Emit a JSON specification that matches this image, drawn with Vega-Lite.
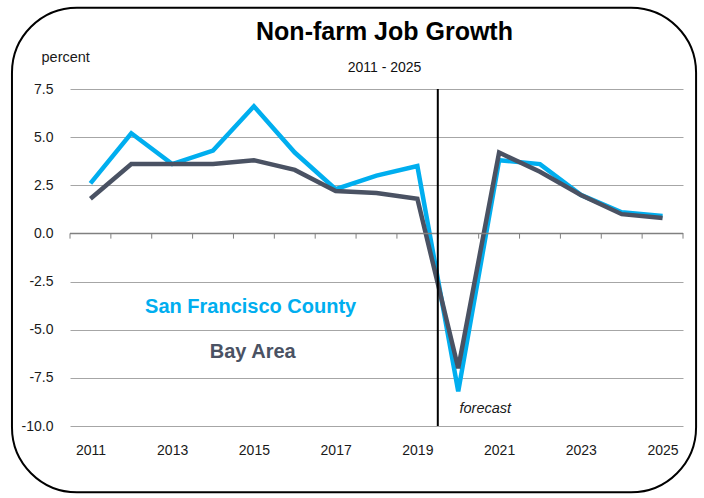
{
  "$schema": "https://vega.github.io/schema/vega-lite/v6.json",
  "width": 613,
  "height": 337,
  "autosize": {"type": "none"},
  "padding": {"left": 70, "top": 89, "right": 21, "bottom": 72},
  "background": "white",
  "title": {
    "text": "Non-farm Job Growth",
    "subtitle": "2011 - 2025",
    "anchor": "middle",
    "frame": "group",
    "dx": 8,
    "offset": -68,
    "font": "Liberation Sans",
    "fontSize": 25,
    "fontWeight": "bold",
    "color": "#000000",
    "subtitleFont": "Liberation Sans",
    "subtitleFontSize": 14,
    "subtitleColor": "#111111",
    "subtitlePadding": 16
  },
  "config": {"view": {"stroke": null}, "font": "Liberation Sans"},
  "datasets": {
    "jobs": [
      {"year": 2011, "series": "San Francisco County", "value": 2.6},
      {"year": 2012, "series": "San Francisco County", "value": 5.2},
      {"year": 2013, "series": "San Francisco County", "value": 3.6},
      {"year": 2014, "series": "San Francisco County", "value": 4.3},
      {"year": 2015, "series": "San Francisco County", "value": 6.6},
      {"year": 2016, "series": "San Francisco County", "value": 4.2},
      {"year": 2017, "series": "San Francisco County", "value": 2.3},
      {"year": 2018, "series": "San Francisco County", "value": 3.0},
      {"year": 2019, "series": "San Francisco County", "value": 3.5},
      {"year": 2020, "series": "San Francisco County", "value": -8.2},
      {"year": 2021, "series": "San Francisco County", "value": 3.8},
      {"year": 2022, "series": "San Francisco County", "value": 3.6},
      {"year": 2023, "series": "San Francisco County", "value": 2.0},
      {"year": 2024, "series": "San Francisco County", "value": 1.1},
      {"year": 2025, "series": "San Francisco County", "value": 0.9},
      {"year": 2011, "series": "Bay Area", "value": 1.8},
      {"year": 2012, "series": "Bay Area", "value": 3.6},
      {"year": 2013, "series": "Bay Area", "value": 3.6},
      {"year": 2014, "series": "Bay Area", "value": 3.6},
      {"year": 2015, "series": "Bay Area", "value": 3.8},
      {"year": 2016, "series": "Bay Area", "value": 3.3},
      {"year": 2017, "series": "Bay Area", "value": 2.2},
      {"year": 2018, "series": "Bay Area", "value": 2.1},
      {"year": 2019, "series": "Bay Area", "value": 1.8},
      {"year": 2020, "series": "Bay Area", "value": -7.0},
      {"year": 2021, "series": "Bay Area", "value": 4.2},
      {"year": 2022, "series": "Bay Area", "value": 3.2},
      {"year": 2023, "series": "Bay Area", "value": 2.0},
      {"year": 2024, "series": "Bay Area", "value": 1.0},
      {"year": 2025, "series": "Bay Area", "value": 0.8}
    ],
    "boundaries": [
      {"b": 2010.5}, {"b": 2011.5}, {"b": 2012.5}, {"b": 2013.5},
      {"b": 2014.5}, {"b": 2015.5}, {"b": 2016.5}, {"b": 2017.5},
      {"b": 2018.5}, {"b": 2019.5}, {"b": 2020.5}, {"b": 2021.5},
      {"b": 2022.5}, {"b": 2023.5}, {"b": 2024.5}, {"b": 2025.5}
    ]
  },
  "layer": [
    {
      "data": {"name": "jobs"},
      "mark": {"type": "line", "strokeWidth": 4.5, "strokeJoin": "miter"},
      "encoding": {
        "x": {
          "field": "year",
          "type": "quantitative",
          "scale": {"domain": [2010.5, 2025.5], "nice": false, "zero": false},
          "axis": {
            "values": [2011, 2013, 2015, 2017, 2019, 2021, 2023, 2025],
            "format": "d",
            "title": null,
            "grid": false,
            "ticks": false,
            "tickSize": 0,
            "domain": false,
            "labelFont": "Liberation Sans",
            "labelFontSize": 14,
            "labelPadding": 17,
            "labelColor": "#1a1a1a"
          }
        },
        "y": {
          "field": "value",
          "type": "quantitative",
          "scale": {"domain": [-10, 7.5], "nice": false, "zero": false},
          "axis": {
            "values": [-10, -7.5, -5, -2.5, 0, 2.5, 5, 7.5],
            "labelExpr": "replace(format(datum.value, '.1f'), '\u2212', '-')",
            "title": "percent",
            "titleAngle": 0,
            "titleAlign": "left",
            "titleBaseline": "alphabetic",
            "titleX": -29,
            "titleY": -28,
            "titleFont": "Liberation Sans",
            "titleFontSize": 14.5,
            "titleFontWeight": "normal",
            "titleColor": "#1a1a1a",
            "labelFont": "Liberation Sans",
            "labelFontSize": 14,
            "labelColor": "#1a1a1a",
            "labelPadding": 17,
            "ticks": false,
            "tickSize": 0,
            "domain": false,
            "grid": true,
            "gridColor": "#a6a6a6",
            "gridWidth": 1
          }
        },
        "color": {
          "field": "series",
          "type": "nominal",
          "scale": {"domain": ["Bay Area", "San Francisco County"], "range": ["#4a5263", "#00aeef"]},
          "legend": null
        }
      }
    },
    {
      "data": {"values": [{}]},
      "mark": {"type": "rule", "color": "#808080", "strokeWidth": 1.5},
      "encoding": {"y": {"datum": 0, "type": "quantitative"}}
    },
    {
      "data": {"name": "boundaries"},
      "mark": {"type": "rule", "color": "#808080", "strokeWidth": 1},
      "encoding": {
        "x": {"field": "b", "type": "quantitative"},
        "y": {"datum": 0, "type": "quantitative"},
        "y2": {"datum": -0.27}
      }
    },
    {
      "data": {"values": [{}]},
      "mark": {"type": "rule", "color": "#000000", "strokeWidth": 2},
      "encoding": {"x": {"datum": 2019.5, "type": "quantitative"}}
    },
    {
      "data": {"values": [{}]},
      "mark": {"type": "text", "text": "San Francisco County", "font": "Liberation Sans", "fontSize": 20, "fontWeight": "bold", "color": "#00aeef", "align": "center", "baseline": "alphabetic"},
      "encoding": {"x": {"datum": 2014.92, "type": "quantitative"}, "y": {"datum": -4.15, "type": "quantitative"}}
    },
    {
      "data": {"values": [{}]},
      "mark": {"type": "text", "text": "Bay Area", "font": "Liberation Sans", "fontSize": 20, "fontWeight": "bold", "color": "#4a5263", "align": "center", "baseline": "alphabetic"},
      "encoding": {"x": {"datum": 2014.97, "type": "quantitative"}, "y": {"datum": -6.49, "type": "quantitative"}}
    },
    {
      "data": {"values": [{}]},
      "mark": {"type": "text", "text": "forecast", "font": "Liberation Sans", "fontSize": 14.5, "fontStyle": "italic", "color": "#1a1a1a", "align": "left", "baseline": "alphabetic"},
      "encoding": {"x": {"datum": 2020.03, "type": "quantitative"}, "y": {"datum": -9.33, "type": "quantitative"}}
    },
    {
      "data": {"values": [{}]},
      "mark": {"type": "rect", "filled": false, "stroke": "#000000", "strokeWidth": 2, "cornerRadius": 65},
      "encoding": {
        "x": {"datum": 2009.08, "type": "quantitative"},
        "x2": {"datum": 2025.82},
        "y": {"datum": 11.72, "type": "quantitative"},
        "y2": {"datum": -13.44}
      }
    }
  ]
}
